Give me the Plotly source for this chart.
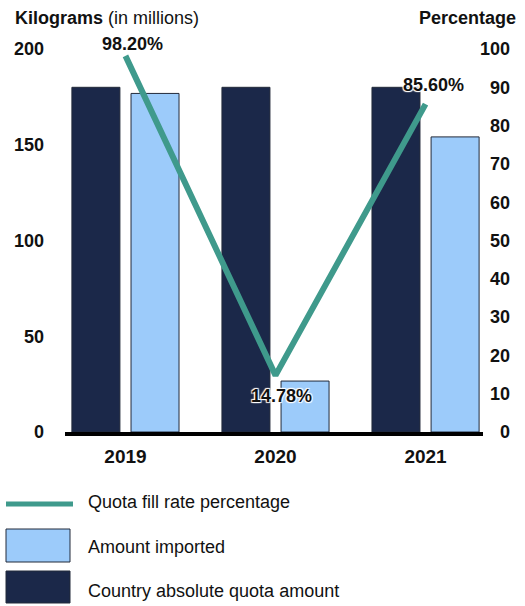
import plotly.graph_objects as go

# Data
years = ["2019", "2020", "2021"]
quota_kg = [180, 180, 180]            # country absolute quota amount (million kg)
imported_kg = [176.8, 26.6, 154.1]    # amount imported (million kg)
fill_rate_pct = [98.20, 14.78, 85.60] # quota fill rate (%)
kg_ticks = [0, 50, 100, 150, 200]
pct_ticks = [0, 10, 20, 30, 40, 50, 60, 70, 80, 90, 100]

# Styling
NAVY = "#1b2849"
LIGHT = "#9ccbfa"
TEAL = "#3f9a8c"
OUTLINE = "#222a3a"
FONT = "Liberation Sans, Arial, sans-serif"
HALO = "1px 1px 1px white, -1px -1px 1px white, 1px -1px 1px white, -1px 1px 1px white"

W, H = 525, 606
ML, MR, MT, MB = 65, 14, 49, 174
plot_w = W - ML - MR
plot_h = H - MT - MB
x_frac = (483 - ML) / plot_w


def px(x):
    return (x - ML) / plot_w


def py(y):
    return (H - MB - y) / plot_h


fig = go.Figure()
fig.add_trace(go.Bar(
    x=years, y=quota_kg, name="Country absolute quota amount",
    marker=dict(color=NAVY, line=dict(color=OUTLINE, width=1)),
    width=0.32, offset=-0.357, showlegend=False,
))
fig.add_trace(go.Bar(
    x=years, y=imported_kg, name="Amount imported",
    marker=dict(color=LIGHT, line=dict(color=OUTLINE, width=1)),
    width=0.32, offset=0.037, showlegend=False,
))
fig.add_trace(go.Scatter(
    x=years, y=fill_rate_pct, yaxis="y2", mode="lines",
    name="Quota fill rate percentage",
    line=dict(color=TEAL, width=6), showlegend=False,
))

annotations = [
    dict(text="<b>Kilograms</b> (in millions)", xref="paper", yref="paper",
         x=px(13), y=py(18), xanchor="left", yanchor="middle",
         showarrow=False, font=dict(size=18, color="#111", family=FONT)),
    dict(text="<b>Percentage</b>", xref="paper", yref="paper",
         x=px(518), y=py(18), xanchor="right", yanchor="middle",
         showarrow=False, font=dict(size=18, color="#111", family=FONT)),
]

# Value labels for the fill-rate line (placed in data coordinates of y2)
label_xshift = [7.5, 6, 8]
label_yshift = [11.5, -20.5, 19]
for i, (v, dx, dy) in enumerate(zip(fill_rate_pct, label_xshift, label_yshift)):
    annotations.append(dict(
        text=f"<b>{v:.2f}%</b>", x=i, y=v, xref="x", yref="y2",
        xshift=dx, yshift=dy, showarrow=False,
        xanchor="center", yanchor="middle",
        font=dict(size=18, color="#111", family=FONT, shadow=HALO),
    ))

# Legend drawn beneath the chart
shapes = [
    dict(type="line", xref="paper", yref="paper",
         x0=px(6), x1=px(73), y0=py(504), y1=py(504),
         line=dict(color=TEAL, width=5)),
    dict(type="rect", xref="paper", yref="paper",
         x0=px(6), x1=px(70), y0=py(529), y1=py(562),
         fillcolor=LIGHT, line=dict(color=OUTLINE, width=1)),
    dict(type="rect", xref="paper", yref="paper",
         x0=px(6), x1=px(70), y0=py(571), y1=py(603),
         fillcolor=NAVY, line=dict(color=OUTLINE, width=1)),
]
legend_items = [("Quota fill rate percentage", 502),
                ("Amount imported", 547),
                ("Country absolute quota amount", 591)]
for txt, yc in legend_items:
    annotations.append(dict(
        text=txt, xref="paper", yref="paper", x=px(86), y=py(yc),
        xanchor="left", yanchor="middle", showarrow=False,
        font=dict(size=18, color="#111", family=FONT),
    ))

fig.update_layout(
    width=W, height=H,
    margin=dict(l=ML, r=MR, t=MT, b=MB, pad=0),
    paper_bgcolor="white", plot_bgcolor="white",
    barmode="overlay",
    showlegend=False,
    font=dict(family=FONT, color="#111"),
    xaxis=dict(
        domain=[0, x_frac], range=[-0.403, 2.383], type="category",
        showline=True, linewidth=4, linecolor="black",
        ticks="", showgrid=False, zeroline=False,
        tickfont=dict(size=19, family=FONT, color="#111", weight="bold"),
        ticklabelstandoff=4,
    ),
    yaxis=dict(
        range=[0, 200], tickvals=kg_ticks, ticks="",
        showgrid=False, zeroline=False, showline=False,
        tickfont=dict(size=18, family=FONT, color="#111", weight="bold"),
        ticklabelstandoff=20,
    ),
    yaxis2=dict(
        range=[0, 100], tickvals=pct_ticks, ticks="",
        overlaying="y", side="left", anchor="free", position=1,
        showgrid=False, zeroline=False, showline=False,
        tickfont=dict(size=18, family=FONT, color="#111", weight="bold"),
        ticklabelstandoff=1,
    ),
    annotations=annotations,
    shapes=shapes,
)

fig.write_html("out.html")
